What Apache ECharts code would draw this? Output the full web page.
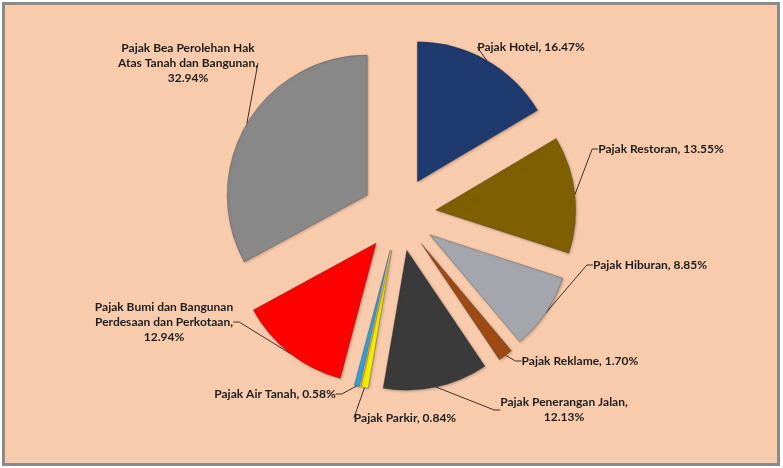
<!DOCTYPE html>
<html>
<head>
<meta charset="utf-8">
<script src="https://cdn.jsdelivr.net/npm/echarts@6/dist/echarts.min.js"></script>
<style>
  html, body { margin: 0; padding: 0; background: #ffffff; }
  #frame { position: absolute; left: 2px; top: 2px; width: 778px; height: 464px; box-sizing: border-box;
           border: 3px solid #8a8a8a; background: #F8CBAD; }
  #chart { position: absolute; left: 0; top: 0; width: 783px; height: 468px; }
</style>
</head>
<body>
<div id="frame"></div>
<div id="chart"></div>
<script>
// ---- data ----
const categories = [
  "Pajak Hotel",
  "Pajak Restoran",
  "Pajak Hiburan",
  "Pajak Reklame",
  "Pajak Penerangan Jalan",
  "Pajak Parkir",
  "Pajak Air Tanah",
  "Pajak Bumi dan Bangunan Perdesaan dan Perkotaan",
  "Pajak Bea Perolehan Hak Atas Tanah dan Bangunan"
];
const shares = [16.47, 13.55, 8.85, 1.70, 12.13, 0.84, 0.58, 12.94, 32.94];
// label text as shown (line-wrapped)
const labelNames = [
  "Pajak Hotel, ",
  "Pajak Restoran, ",
  "Pajak Hiburan, ",
  "Pajak Reklame, ",
  "Pajak Penerangan Jalan,\n",
  "Pajak Parkir, ",
  "Pajak Air Tanah, ",
  "Pajak Bumi dan Bangunan\nPerdesaan dan Perkotaan,\n",
  "Pajak Bea Perolehan Hak\nAtas Tanah dan Bangunan,\n"
];

// ---- styles / layout ----
const colors = ["#1F3A6E", "#7F6000", "#A3A7AD", "#9E4A14", "#3A3A3A", "#F5EC00", "#2EA3DB", "#FF0000", "#888888"];
const labelPos = [
  [531, 47], [661, 149], [650, 265], [580, 361], [564, 410],
  [405, 418], [275, 394], [164, 322], [188, 63]
];
const pieCenter = [399, 214];
const pieRadius = 140;
const explode = 37;

const total = shares.reduce((a, b) => a + b, 0);
let cum = 0;
const series = categories.map((name, i) => {
  // each slice drawn exploded along its own mid-angle
  const mid = (cum + shares[i] / 2) / total * 2 * Math.PI;
  cum += shares[i];
  const cx = pieCenter[0] + explode * Math.sin(mid);
  const cy = pieCenter[1] - explode * Math.cos(mid);
  return {
    type: 'pie',
    center: [cx, cy],
    radius: [0, pieRadius],
    startAngle: 90,
    clockwise: true,
    avoidLabelOverlap: false,
    silent: true,
    z: i === 8 ? 3 : 2,
    label: {
      show: false,
      position: 'outside',
      fontFamily: 'Lato',
      fontWeight: 'bold',
      fontSize: 12,
      lineHeight: 15,
      color: '#1e1e1e',
      formatter: p => labelNames[p.dataIndex] + shares[p.dataIndex].toFixed(2) + '%'
    },
    labelLine: {
      show: false,
      length: 8,
      length2: 6,
      lineStyle: { color: '#3b3028', width: 1 }
    },
    labelLayout: function (params) {
      const pos = labelPos[params.dataIndex];
      return { x: pos[0], y: pos[1], align: 'center', verticalAlign: 'middle' };
    },
    emphasis: { disabled: true },
    data: categories.map((c, j) => j === i ? {
      name: c,
      value: shares[j],
      itemStyle: {
        color: colors[j],
        borderColor: 'rgba(40,40,40,0.35)',
        borderWidth: 0.8,
        shadowBlur: 3,
        shadowColor: 'rgba(0,0,0,0.25)',
        shadowOffsetX: 1,
        shadowOffsetY: 1
      },
      label: { show: true },
      labelLine: { show: true }
    } : {
      name: c,
      value: shares[j],
      itemStyle: { color: 'rgba(0,0,0,0)', borderWidth: 0 },
      label: { show: false },
      labelLine: { show: false }
    })
  };
});

const chart = echarts.init(document.getElementById('chart'), null, { renderer: 'canvas' });
chart.setOption({
  animation: false,
  backgroundColor: 'transparent',
  series: series
});
</script>
</body>
</html>
